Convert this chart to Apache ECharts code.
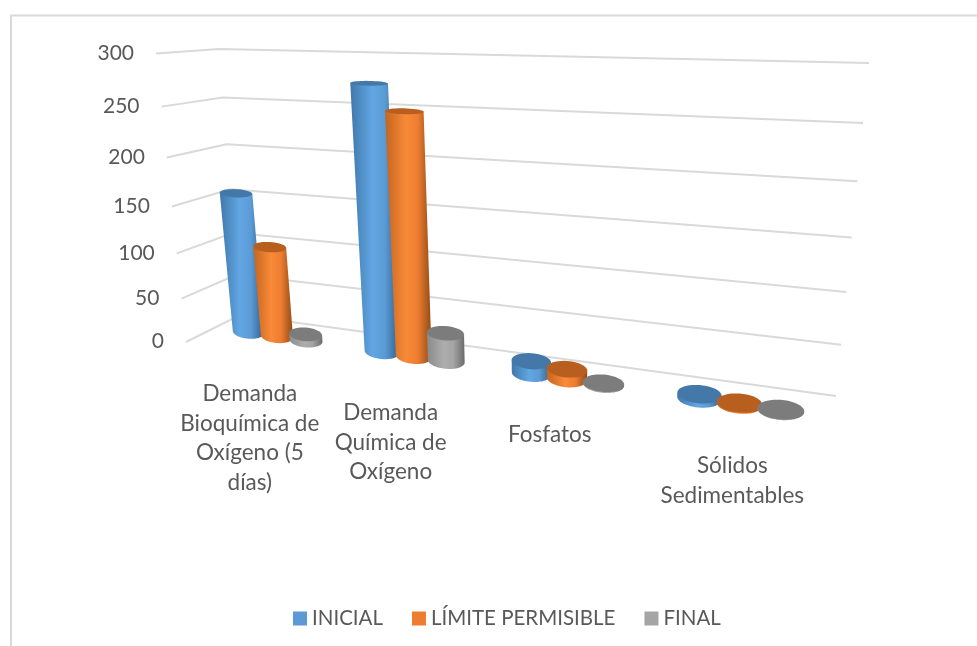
<!DOCTYPE html>
<html>
<head>
<meta charset="utf-8">
<title>Parámetros de calidad del agua</title>
<script src="https://cdn.jsdelivr.net/npm/echarts@6/dist/echarts.min.js"></script>
<style>html,body{margin:0;padding:0;background:#fff}#chart{width:977px;height:646px}</style>
</head>
<body>
<div id="chart"></div>
<script>
// Chart data
const categories = ['Demanda\nBioquímica de\nOxígeno (5\ndías)', 'Demanda\nQuímica de\nOxígeno', 'Fosfatos', 'Sólidos\nSedimentables'];
const inicial = [155, 275, 13, 4];
const limitePermisible = [100, 250, 10, 1];
const final = [7, 30, 1, 0.5];
const yTicks = [0, 50, 100, 150, 200, 250, 300];

// Perspective planes of the 3D scene, as screen-space quads: [u0v0, u1v0, u1v1, u0v1]
const columnQuad = [[213.7, 327], [834, 418], [867, 72], [186, 51]];
const backWallQuad = [[240, 315], [836, 396], [869, 63], [219, 49]];
const sideWallQuad = [[186, 342], [240, 315], [219, 49], [156, 53.5]];

// Label placement relative to each category's projected base
const categoryLabelShift = [[-27, 43], [-23, 42], [-17, 41], [-7, 47]];

const BAR_STEP = 0.222 / categories.length; // distance between neighbouring columns, in plane units
const BAR_RADIUS = 0.124 / categories.length;
const TILT = 0.5; // ellipse axes run flatter than the plane's own horizontal
const FONT = 'Lato, "Open Sans", sans-serif';
const TEXT_COLOR = '#595959';
const GRID_COLOR = '#d9d9d9';

// Unit square to quad projective mapping
function homography(q) {
  const [[x0, y0], [x1, y1], [x2, y2], [x3, y3]] = q;
  const sx = x0 - x1 + x2 - x3, sy = y0 - y1 + y2 - y3;
  const dx1 = x1 - x2, dy1 = y1 - y2, dx2 = x3 - x2, dy2 = y3 - y2;
  const den = dx1 * dy2 - dx2 * dy1;
  const g = (sx * dy2 - dx2 * sy) / den;
  const h = (dx1 * sy - sx * dy1) / den;
  const a = x1 - x0 + g * x1, b = x3 - x0 + h * x3;
  const d = y1 - y0 + g * y1, e = y3 - y0 + h * y3;
  return (u, v) => {
    const w = g * u + h * v + 1;
    return [(a * u + b * v + x0) / w, (d * u + e * v + y0) / w];
  };
}
const projectColumn = homography(columnQuad);
const projectBack = homography(backWallQuad);
const projectSide = homography(sideWallQuad);

// Normalised position of an axis coordinate inside the cartesian grid
function toUnit(params, pt) {
  const c = params.coordSys;
  return [(pt[0] - c.x) / c.width, (c.y + c.height - pt[1]) / c.height];
}

// Ellipse flattens with height, as the camera looks at higher tops more edge-on
function ellipseRatio(value) {
  return Math.max(0.1, 0.42 - 0.3 * value / 280);
}

// Ends of a disc's major axis, levelled by TILT around its centre
function discEnds(left, right) {
  const cy = (left[1] + right[1]) / 2;
  const ay = (right[1] - left[1]) / 2 * TILT;
  return [[left[0], cy - ay], [right[0], cy + ay]];
}

function ellipsePoints(ends, ratio, from, to) {
  const [left, right] = ends;
  const cx = (left[0] + right[0]) / 2, cy = (left[1] + right[1]) / 2;
  const ax = (right[0] - left[0]) / 2, ay = (right[1] - left[1]) / 2;
  const ry = Math.hypot(ax, ay) * ratio;
  const pts = [];
  const n = 40;
  for (let i = 0; i <= n; i++) {
    const t = from + (to - from) * i / n;
    pts.push([cx + ax * Math.cos(t), cy + ay * Math.cos(t) + ry * Math.sin(t)]);
  }
  return pts;
}

function cylinderRenderer(offsetIndex, palette) {
  return function (params, api) {
    const cat = api.value(0), val = api.value(1);
    const [u, vTop] = toUnit(params, api.coord([cat, val]));
    const cu = u + offsetIndex * BAR_STEP;
    const base = toUnit(params, api.coord([cat, 0]))[1];
    const baseEnds = discEnds(projectColumn(cu - BAR_RADIUS, base), projectColumn(cu + BAR_RADIUS, base));
    const topEnds = discEnds(projectColumn(cu - BAR_RADIUS, vTop), projectColumn(cu + BAR_RADIUS, vTop));
    const bottomArc = ellipsePoints(baseEnds, 0.42, 0, Math.PI);
    const side = {
      type: 'polygon',
      shape: { points: [topEnds[0], topEnds[1]].concat(bottomArc) },
      style: {
        fill: {
          type: 'linear', x: 0, y: 0, x2: 1, y2: 0,
          colorStops: [
            { offset: 0, color: palette.edgeLeft },
            { offset: 0.45, color: palette.mid },
            { offset: 0.7, color: palette.mid2 },
            { offset: 1, color: palette.edgeRight }
          ]
        }
      }
    };
    const cap = {
      type: 'polygon',
      shape: { points: ellipsePoints(topEnds, ellipseRatio(val), 0, Math.PI * 2) },
      style: { fill: palette.top }
    };
    return { type: 'group', children: [side, cap] };
  };
}

// Gridlines follow side wall then back wall; tick labels sit off the front edge
function renderGrid(params, api) {
  const v = toUnit(params, api.coord([0, api.value(1)]))[1];
  const front = projectSide(0, v), corner = projectSide(1, v), far = projectBack(1, v);
  return {
    type: 'group',
    children: [
      {
        type: 'polyline',
        shape: { points: [front, corner, far] },
        style: { stroke: GRID_COLOR, lineWidth: 2, fill: 'none' }
      },
      {
        type: 'text',
        style: {
          x: front[0] - 22, y: front[1] - 0.5,
          text: String(api.value(1)),
          fill: TEXT_COLOR, fontSize: 21, fontFamily: FONT,
          align: 'right', verticalAlign: 'middle'
        }
      }
    ]
  };
}

function renderCategoryLabel(params, api) {
  const cat = api.value(0);
  const [u, v] = toUnit(params, api.coord([cat, 0]));
  const p = projectColumn(u, v);
  const shift = categoryLabelShift[params.dataIndex];
  return {
    type: 'text',
    style: {
      x: p[0] + shift[0], y: p[1] + shift[1],
      text: categories[params.dataIndex],
      fill: TEXT_COLOR, fontSize: 22.5, fontFamily: FONT, lineHeight: 29.5,
      align: 'center', verticalAlign: 'top'
    }
  };
}

const palettes = {
  blue: { edgeLeft: '#3f78ab', mid: '#62a6e3', mid2: '#5b9bd5', edgeRight: '#2f5f8c', top: '#4478a8' },
  orange: { edgeLeft: '#c4651f', mid: '#f98a38', mid2: '#ed7d31', edgeRight: '#8f4a14', top: '#b85f20' },
  gray: { edgeLeft: '#8a8a8a', mid: '#adadad', mid2: '#a5a5a5', edgeRight: '#6b6b6b', top: '#7c7c7c' }
};

function columnSeries(name, values, offsetIndex, palette, color) {
  return {
    name,
    type: 'custom',
    coordinateSystem: 'cartesian2d',
    renderItem: cylinderRenderer(offsetIndex, palette),
    itemStyle: { color },
    encode: { x: 0, y: 1 },
    data: values.map((v, i) => [i, v]),
    silent: true,
    clip: false
  };
}

const chart = echarts.init(document.getElementById('chart'));
chart.setOption({
  animation: false,
  backgroundColor: '#ffffff',
  grid: { left: 200, right: 120, top: 50, bottom: 250 },
  xAxis: { type: 'category', data: categories.map((c) => c.replace(/\n/g, ' ')), show: false },
  yAxis: { type: 'value', min: 0, max: 300, interval: 50, show: false },
  legend: {
    data: ['INICIAL', 'LÍMITE PERMISIBLE', 'FINAL'],
    left: 288,
    top: 603,
    icon: 'rect',
    itemWidth: 14,
    itemHeight: 14,
    itemGap: 29,
    selectedMode: false,
    textStyle: { color: TEXT_COLOR, fontSize: 20.5, fontFamily: FONT }
  },
  graphic: [{
    type: 'rect',
    silent: true,
    shape: { x: 11, y: 15.5, width: 1100, height: 800 },
    style: { stroke: GRID_COLOR, lineWidth: 2, fill: 'none' }
  }],
  series: [
    {
      name: 'Cuadrícula', type: 'custom', coordinateSystem: 'cartesian2d',
      renderItem: renderGrid, encode: { x: 0, y: 1 },
      data: yTicks.map((t) => [0, t]), silent: true, clip: false, z: 1
    },
    {
      name: 'Categorías', type: 'custom', coordinateSystem: 'cartesian2d',
      renderItem: renderCategoryLabel, encode: { x: 0, y: 1 },
      data: categories.map((c, i) => [i, 0]), silent: true, clip: false, z: 1
    },
    columnSeries('INICIAL', inicial, -1, palettes.blue, '#5b9bd5'),
    columnSeries('LÍMITE PERMISIBLE', limitePermisible, 0, palettes.orange, '#ed7d31'),
    columnSeries('FINAL', final, 1, palettes.gray, '#a5a5a5')
  ]
});
</script>
</body>
</html>
